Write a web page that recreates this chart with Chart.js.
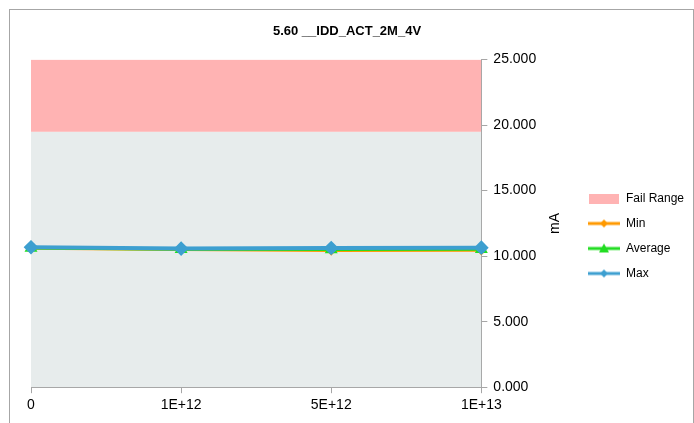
<!DOCTYPE html>
<html>
<head>
<meta charset="utf-8">
<script src="https://cdn.jsdelivr.net/npm/chart.js@4"></script>
<style>
  html, body { margin: 0; padding: 0; background: #fff; }
  #wrap { position: relative; width: 694px; height: 423px; }
  #frame { position: absolute; left: 9px; top: 9px; width: 685px; height: 430px; border: 1px solid #a6a6a6; box-sizing: border-box; pointer-events: none; }
</style>
</head>
<body>
<div id="wrap">
  <canvas id="myChart" width="694" height="423"></canvas>
  <div id="frame"></div>
</div>
<script>
const categorias = ['0', '1E+12', '5E+12', '1E+13'];
const valoresMin = [10.60, 10.50, 10.43, 10.45];
const valoresMedia = [10.62, 10.53, 10.50, 10.52];
const valoresMax = [10.68, 10.58, 10.62, 10.65];
const limiteFalha = [19.5, 19.5, 19.5, 19.5];
const topoFalha = [25, 25, 25, 25];

// pequenos icones da legenda (linha + marcador)
function iconeLinha(cor, marcador) {
    const c = document.createElement('canvas');
    c.width = 32; c.height = 12;
    const g = c.getContext('2d');
    g.strokeStyle = cor;
    g.lineWidth = 3;
    g.beginPath(); g.moveTo(0, 6); g.lineTo(32, 6); g.stroke();
    g.fillStyle = cor;
    g.beginPath();
    if (marcador === 'triangle') {
        g.moveTo(16, 1); g.lineTo(21, 10); g.lineTo(11, 10);
    } else {
        g.moveTo(16, 2); g.lineTo(20, 6); g.lineTo(16, 10); g.lineTo(12, 6);
    }
    g.closePath(); g.fill();
    return c;
}

function iconeCaixa(cor) {
    const c = document.createElement('canvas');
    c.width = 32; c.height = 10;
    const g = c.getContext('2d');
    g.fillStyle = cor;
    g.fillRect(1, 0, 30, 10);
    return c;
}

const corFalha = '#ffb3b3';
const corMin = '#ff9900';
const corMedia = '#22dd22';
const corMax = '#3d9fd0';

const dados = {
    labels: categorias,
    datasets: [
        {
            label: 'Max',
            data: valoresMax,
            borderColor: corMax,
            backgroundColor: corMax,
            borderWidth: 4,
            pointStyle: 'rectRot',
            pointRadius: 4.5,
            fill: false,
        },
        {
            label: 'Average',
            data: valoresMedia,
            borderColor: corMedia,
            backgroundColor: corMedia,
            borderWidth: 3,
            pointStyle: 'triangle',
            pointRadius: 4.5,
            fill: false,
        },
        {
            label: 'Min',
            data: valoresMin,
            borderColor: corMin,
            backgroundColor: corMin,
            borderWidth: 3,
            pointStyle: 'rectRot',
            pointRadius: 3,
            fill: false,
        },
        {
            label: 'Fail Range',
            data: topoFalha,
            borderWidth: 0,
            borderColor: 'rgba(0,0,0,0)',
            backgroundColor: corFalha,
            pointRadius: 0,
            fill: { value: 19.5 },
        },
        {
            label: 'Pass',
            data: limiteFalha,
            borderWidth: 0,
            borderColor: 'rgba(0,0,0,0)',
            backgroundColor: '#e7ecec',
            pointRadius: 0,
            fill: 'origin',
        },
    ]
};

const fonte = { family: 'Liberation Sans', size: 14 };

// titulo do eixo Y escrito de baixo para cima (como no Excel)
const tituloEixo = {
    id: 'tituloEixo',
    afterDraw(chart) {
        const y = chart.scales.y;
        const g = chart.ctx;
        g.save();
        g.translate(y.left + 74, (y.top + y.bottom) / 2);
        g.rotate(-Math.PI / 2);
        g.fillStyle = '#000';
        g.font = '14px "Liberation Sans"';
        g.textAlign = 'center';
        g.textBaseline = 'middle';
        g.fillText('mA', 0, 0);
        g.restore();
    }
};

const config = {
    type: 'line',
    data: dados,
    plugins: [tituloEixo],
    options: {
        responsive: false,
        animation: false,
        layout: {
            padding: { top: 12, left: 0, right: 0, bottom: 5 }
        },
        scales: {
            x: {
                offset: false,
                afterFit: function (escala) {
                    escala.paddingLeft = 31; // espaco a esquerda da area do grafico
                },
                grid: {
                    drawOnChartArea: false,
                    drawTicks: true,
                    tickLength: 6,
                    color: '#a6a6a6',
                },
                border: { color: '#a6a6a6' },
                ticks: {
                    color: '#000',
                    font: fonte,
                    maxRotation: 0,
                    padding: 4,
                },
            },
            y: {
                position: 'right',
                min: 0,
                max: 25,
                grid: {
                    drawOnChartArea: false,
                    drawTicks: true,
                    tickLength: 6,
                    color: '#a6a6a6',
                },
                border: { color: '#a6a6a6' },
                ticks: {
                    stepSize: 5,
                    color: '#000',
                    font: fonte,
                    padding: 6,
                    callback: v => v.toFixed(3),
                },
                title: {
                    display: true,
                    text: 'mA',
                    color: 'rgba(0,0,0,0)',
                    font: fonte,
                    padding: { top: 8, bottom: 8 },
                }
            }
        },
        plugins: {
            filler: { drawTime: 'beforeDatasetsDraw' },
            tooltip: { enabled: false },
            title: {
                display: true,
                text: '5.60 __IDD_ACT_2M_4V',
                color: '#000',
                font: { family: 'Liberation Sans', size: 13, weight: 'bold' },
                padding: { top: 12, bottom: 20 },
            },
            legend: {
                position: 'right',
                title: {
                    display: true,
                    text: ' ',
                    font: { size: 10 },
                    padding: { top: 15, bottom: 15 },
                },
                labels: {
                    usePointStyle: true,
                    pointStyleWidth: 32,
                    boxHeight: 10,
                    padding: 13,
                    color: '#000',
                    font: { family: 'Liberation Sans', size: 12 },
                    generateLabels: function (chart) {
                        const itens = [
                            { text: 'Fail Range', pointStyle: iconeCaixa(corFalha), datasetIndex: 3 },
                            { text: 'Min', pointStyle: iconeLinha(corMin, 'diamond'), datasetIndex: 2 },
                            { text: 'Average', pointStyle: iconeLinha(corMedia, 'triangle'), datasetIndex: 1 },
                            { text: 'Max', pointStyle: iconeLinha(corMax, 'diamond'), datasetIndex: 0 },
                        ];
                        return itens.map(i => Object.assign(i, {
                            fillStyle: 'transparent',
                            strokeStyle: 'transparent',
                            lineWidth: 0,
                            hidden: false,
                            fontColor: '#000',
                        }));
                    }
                },
                onClick: null,
            }
        }
    }
};

const ctx = document.getElementById('myChart').getContext('2d');
new Chart(ctx, config);
</script>
</body>
</html>
